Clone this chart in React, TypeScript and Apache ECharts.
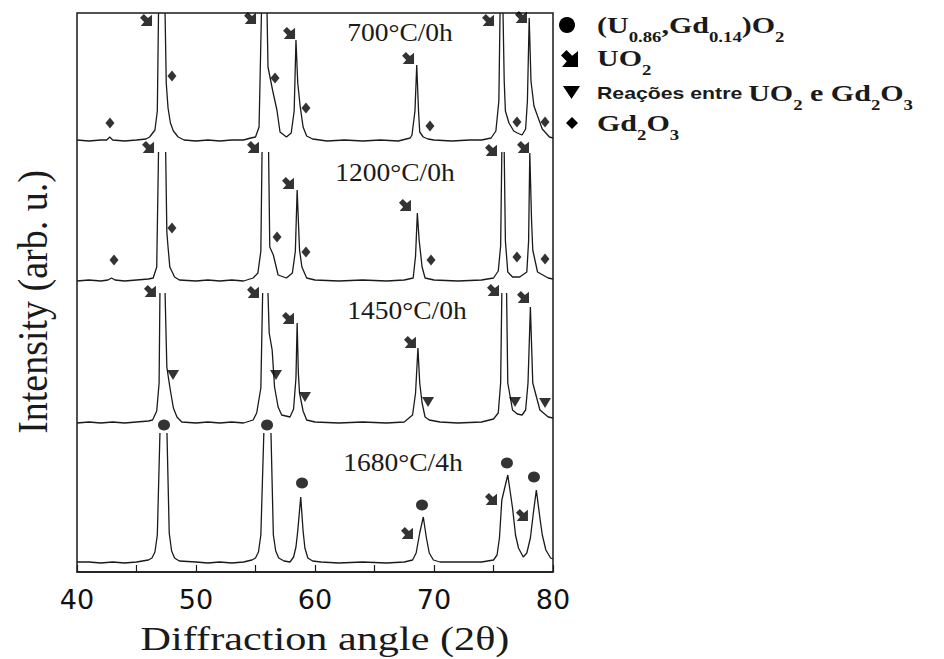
import React, { useEffect, useRef } from 'react';
import * as echarts from 'echarts';

// 2θ (degrees) vs. intensity above each pattern's own baseline (arb. u.); null = peak runs off-scale
const pattern700: [number, number | null][] = [[40.0,1],[41.0,0],[42.0,1],[42.5,1],[42.75,4],[43.0,1],[44.0,0],[45.0,1],[45.8,2],[46.1,4],[46.55,11],[46.75,30],[46.85,128],[47.1,null],[47.4,128],[47.5,58],[47.65,33],[47.85,18],[48.1,10],[48.5,4],[49.0,1],[50.0,0],[51.0,1],[52.0,0],[53.0,1],[54.0,1],[54.6,3],[55.0,4],[55.3,14],[55.5,128],[55.75,null],[55.97,128],[56.05,74],[56.45,50],[56.8,31],[57.06,9],[57.6,4],[58.0,8],[58.25,30],[58.4,101],[58.55,58],[58.75,35],[59.0,14],[59.3,5],[59.8,2],[61.0,0],[62.5,1],[64.0,0],[65.5,1],[67.0,0],[68.0,3],[68.15,6],[68.4,30],[68.55,76],[68.7,30],[68.8,9],[69.1,4],[69.5,2],[70.0,1],[71.5,0],[73.0,1],[74.0,1],[74.8,3],[75.2,10],[75.45,40],[75.55,128],[75.68,null],[75.8,128],[75.9,60],[76.0,30],[76.3,18],[76.7,10],[77.0,8],[77.4,6],[77.7,12],[77.85,40],[78.0,123],[78.15,60],[78.4,35],[78.7,25],[79.1,12],[79.7,4],[80.0,3]];
const pattern1200: [number, number | null][] = [[40.0,0],[41.0,1],[42.0,0],[42.6,1],[42.9,3],[43.2,1],[44.0,0],[45.0,1],[46.0,2],[46.4,3],[46.7,14],[46.85,129],[47.15,null],[47.45,129],[47.55,49],[47.65,34],[47.8,14],[48.2,4],[48.6,1],[50.0,0],[51.0,1],[52.0,0],[53.0,1],[54.0,0],[54.8,3],[55.2,8],[55.45,30],[55.55,129],[55.8,null],[56.1,129],[56.2,34],[56.5,26],[56.9,6],[57.6,3],[58.1,8],[58.35,30],[58.5,91],[58.7,31],[58.9,14],[59.3,3],[60.0,1],[62.0,0],[64.0,1],[66.0,0],[67.5,1],[68.25,3],[68.45,25],[68.6,68],[68.75,41],[69.0,14],[69.25,3],[70.0,1],[72.0,0],[74.0,1],[75.0,3],[75.4,10],[75.6,35],[75.7,129],[75.8,null],[75.9,129],[76.0,40],[76.2,9],[76.6,4],[77.2,4],[77.8,9],[77.95,40],[78.05,128],[78.2,60],[78.3,31],[78.7,9],[79.6,3],[80.0,2]];
const pattern1450: [number, number | null][] = [[40.0,0],[41.0,1],[42.0,0],[43.0,1],[44.0,0],[45.0,1],[46.0,2],[46.35,3],[46.7,12],[46.9,40],[46.97,130],[47.2,null],[47.4,130],[47.55,56],[47.8,36],[48.1,15],[48.4,6],[48.8,1],[50.0,0],[51.0,1],[52.0,0],[53.0,1],[54.0,0],[54.8,3],[55.1,10],[55.45,35],[55.6,130],[55.8,null],[56.05,130],[56.15,90],[56.4,73],[56.6,36],[56.9,16],[57.2,8],[57.9,6],[58.2,14],[58.4,45],[58.5,100],[58.6,50],[58.7,30],[59.0,12],[59.3,3],[60.0,1],[62.0,0],[64.0,1],[66.0,0],[67.5,1],[68.2,8],[68.45,30],[68.65,75],[68.8,40],[69.0,20],[69.25,6],[69.6,3],[70.5,1],[72.0,0],[74.0,1],[75.0,4],[75.4,10],[75.6,40],[75.7,130],[75.9,null],[76.1,130],[76.2,40],[76.6,13],[77.0,9],[77.4,8],[77.7,13],[77.9,40],[78.1,116],[78.3,40],[78.9,13],[79.6,6],[80.0,5]];
const pattern1680: [number, number | null][] = [[40.0,1],[41.0,1],[42.0,0],[43.0,1],[44.0,0],[45.0,1],[46.0,3],[46.3,5],[46.55,11],[46.75,28],[46.97,130],[47.25,null],[47.56,130],[47.75,30],[47.95,12],[48.2,5],[48.6,2],[50.0,1],[51.0,0],[52.0,1],[53.0,0],[54.0,1],[54.7,3],[55.0,5],[55.25,11],[55.45,28],[55.7,130],[56.0,null],[56.3,130],[56.5,28],[56.7,12],[56.95,5],[57.4,2],[57.9,1],[58.2,6],[58.4,16],[58.55,32],[58.8,66],[59.0,32],[59.15,15],[59.4,5],[59.8,2],[60.5,1],[62.0,0],[64.0,1],[66.0,0],[67.5,1],[68.2,3],[68.5,10],[68.8,30],[69.1,46],[69.35,26],[69.6,10],[69.95,3],[70.5,1],[72.0,1],[74.0,1],[75.0,3],[75.3,8],[75.5,25],[75.7,63],[76.2,88],[76.6,55],[76.85,28],[77.1,15],[77.5,6],[77.8,10],[78.1,25],[78.35,50],[78.6,73],[78.9,45],[79.1,28],[79.4,13],[79.8,5],[80.0,4]];

const patternNames = ['700°C/0h', '1200°C/0h', '1450°C/0h', '1680°C/4h'];
const patternOffsets = [431, 291, 149, 9];

// phase markers: [2θ, stacked intensity]
const uo2Marks = [[45.80,552],[54.54,554],[57.82,539],[67.82,514],[74.54,552],[77.31,555],[45.97,425],[54.79,425],[57.73,389],[67.56,367],[74.79,422],[77.48,425],[46.13,281],[54.79,280],[57.73,254],[67.98,230],[74.96,282],[77.48,275],[67.73,39],[74.79,73],[77.39,57]];
const gd2o3Marks = [[42.77,449],[47.98,496],[56.64,494],[59.24,464],[69.66,446],[76.97,450],[79.33,450],[43.11,312],[47.98,344],[56.81,335],[59.24,320],[69.75,312],[76.97,315],[79.33,313]];
const reactionMarks = [[48.07,197],[56.72,197],[59.16,175],[69.50,170],[76.81,170],[79.33,169]];
const solidSolutionMarks = [[47.31,147],[55.97,147],[58.91,89],[68.99,67],[76.13,109],[78.40,95]];

const xTicks = [40, 50, 60, 70, 80];

const arrowPts = [[0,3.2],[3.2,0],[6.6,3.4],[10,0.6],[10,10],[0.6,10],[3.4,6.6]];
const ARROW = 'path://M' + arrowPts.map((p) => p.join(',')).join('L') + 'Z';

const SERIF = 'Liberation Serif';
const INK = '#1a1a1a';

export default function App() {
  const ref = useRef<HTMLDivElement>(null);
  useEffect(() => {
    if (!ref.current) return;
    const chart = echarts.init(ref.current, null, { renderer: 'svg' });
    const patterns = [pattern700, pattern1200, pattern1450, pattern1680];
    const lineSeries = patterns.map((p, i) => ({
      name: patternNames[i],
      type: 'line',
      symbol: 'none',
      connectNulls: false,
      lineStyle: { color: INK, width: 1.3 },
      data: p.map(([x, v]) => [x, v === null ? '-' : v + patternOffsets[i]]),
      z: 2,
    }));
    const m = { fontFamily: SERIF, fontWeight: 'bold', fontSize: 24, fill: INK };
    const s = { fontFamily: SERIF, fontWeight: 'bold', fontSize: 15, fill: INK, padding: [24, 0, 0, 0] };
    const a = { fontFamily: 'Liberation Sans', fontWeight: 'bold', fontSize: 17, fill: INK };
    const legendRich = { m, s, a };
    const lgText = (text: string, y: number) => ({
      type: 'text', x: 597, y, scaleX: 1.25,
      style: { text, rich: legendRich, align: 'left', verticalAlign: 'middle' },
    });
    const labelPos = [[400, 33], [395, 173], [407, 311], [403, 463]];
    chart.setOption({
      animation: false,
      backgroundColor: '#fff',
      grid: { left: 77, top: 13, width: 476, height: 559, show: true, borderColor: INK, borderWidth: 1.5, containLabel: false },
      xAxis: {
        type: 'value', min: 40, max: 80, interval: 5,
        axisLine: { show: true, lineStyle: { color: INK, width: 1.5 } },
        axisTick: { show: true, inside: true, length: 7, lineStyle: { color: INK, width: 1.2 } },
        splitLine: { show: false },
        axisLabel: {
          margin: 14, fontFamily: 'DejaVu Sans', fontSize: 27, color: '#111',
          formatter: (v: number) => (xTicks.includes(v) ? String(v) : ''),
        },
      },
      yAxis: { type: 'value', min: 0, max: 559, show: false },
      series: [
        ...lineSeries,
        { type: 'scatter', name: 'UO2', symbol: ARROW, symbolSize: [12, 12], itemStyle: { color: '#000' }, data: uo2Marks, z: 3 },
        { type: 'scatter', name: 'Gd2O3', symbol: 'diamond', symbolSize: [9, 11], itemStyle: { color: '#000' }, data: gd2o3Marks, z: 3 },
        { type: 'scatter', name: 'Reações', symbol: 'triangle', symbolRotate: 180, symbolSize: [12, 10], itemStyle: { color: '#000' }, data: reactionMarks, z: 3 },
        { type: 'scatter', name: '(U,Gd)O2', symbol: 'circle', symbolSize: [12, 11], itemStyle: { color: '#000' }, data: solidSolutionMarks, z: 3 },
      ],
      graphic: [
        ...patternNames.map((t, i) => ({
          type: 'text', x: labelPos[i][0], y: labelPos[i][1], scaleX: 1.1,
          style: { text: t, fontFamily: SERIF, fontSize: 25, fill: INK, align: 'center', verticalAlign: 'middle' },
        })),
        {
          type: 'text', x: 325, y: 639, scaleX: 1.28,
          style: { text: 'Diffraction angle (2θ)', fontFamily: SERIF, fontSize: 33, fill: INK, align: 'center', verticalAlign: 'middle' },
        },
        {
          type: 'text', x: 33, y: 302, rotation: Math.PI / 2, scaleY: 1.1,
          style: { text: 'Intensity (arb. u.)', fontFamily: SERIF, fontSize: 38, fill: INK, align: 'center', verticalAlign: 'middle' },
        },
        { type: 'circle', shape: { cx: 567, cy: 25, r: 8 }, style: { fill: '#000' } },
        { type: 'polygon', shape: { points: arrowPts.map(([px, py]) => [561 + px * 1.7, 50 + py * 1.7]) }, style: { fill: '#000' } },
        { type: 'polygon', shape: { points: [[563, 86], [580, 86], [571.5, 99]] }, style: { fill: '#000' } },
        { type: 'polygon', shape: { points: [[572, 117], [578, 123], [572, 129], [566, 123]] }, style: { fill: '#000' } },
        lgText('{m|(U}{s|0.86}{m|,Gd}{s|0.14}{m|)O}{s|2}', 25),
        lgText('{m|UO}{s|2}', 58),
        lgText('{a|Reações entre }{m|UO}{s|2}{m| e Gd}{s|2}{m|O}{s|3}', 93),
        lgText('{m|Gd}{s|2}{m|O}{s|3}', 123),
      ],
    });
    return () => chart.dispose();
  }, []);
  return <div ref={ref} style={{ position: 'fixed', left: 0, top: 0, width: 944, height: 659, background: '#fff' }} />;
}
